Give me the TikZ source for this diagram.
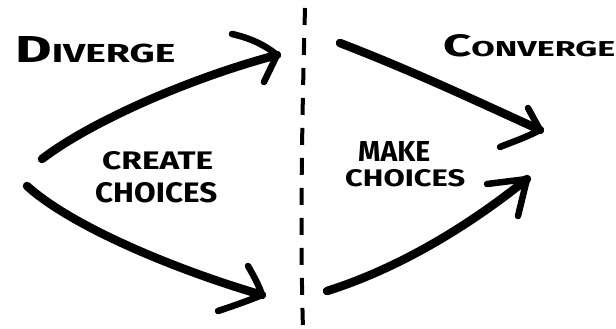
\documentclass[tikz,border=0pt]{standalone}
\usepackage{fontspec}
\setmainfont{Fira Sans}
\usepackage{graphicx}
\newcommand{\hwtext}[3]{\resizebox{#1}{#2}{\bfseries #3}}
\tikzset{
  shaft/.style={line width=8.5pt, line cap=round, black},
  arm/.style={line width=6.5pt, line cap=round, line join=round, black},
  divider/.style={line width=4pt, dash pattern=on 17pt off 13pt, black},
  label/.style={inner sep=0pt, anchor=south west, black}
}
\begin{document}
\begin{tikzpicture}[x=1pt,y=-1pt]
\useasboundingbox[fill=white] (0,0) rectangle (616,329);
% coordinates
\coordinate (s1) at (42,159);
\coordinate (t1) at (277,55);
\coordinate (s2) at (27,186);
\coordinate (t2) at (262,295);
\coordinate (s3) at (340,43);
\coordinate (t3) at (540,130);
\coordinate (s4) at (327,291);
\coordinate (t4) at (527,179);
\coordinate (d1) at (305,8);
\coordinate (d2) at (303,329);
% divider
\draw[divider] (d1) .. controls (302,120) and (300,230) .. (d2);
% arrow 1
\draw[shaft] (s1) .. controls (90,122) and (190,78) .. (t1);
\draw[arm] (232,34) .. controls (250,38) and (265,45) .. (t1) -- (264,82);
% arrow 2
\draw[shaft] (s2) .. controls (70,225) and (170,268) .. (t2);
\draw[arm] (248,266) .. controls (255,278) and (260,288) .. (t2) .. controls (245,302) and (230,307) .. (218,311);
% arrow 3
\draw[shaft] (s3) .. controls (410,70) and (470,98) .. (t3);
\draw[arm] (528,108) -- (t3) .. controls (525,138) and (512,142) .. (500,147);
% arrow 4
\draw[shaft] (s4) .. controls (400,268) and (470,225) .. (t4);
\draw[arm] (487,184) -- (t4) -- (518,216);
% labels
\node[label] (diverge) at (15,63) {\hwtext{160pt}{26pt}{{\Large D}IVERGE}};
\node[label] (converge) at (443,57) {\hwtext{172pt}{22pt}{{\Large C}ONVERGE}};
\node[label] (create) at (102,170) {\hwtext{111pt}{18pt}{CREATE}};
\node[label] (choices1) at (95,203) {\hwtext{122pt}{20pt}{CHOICES}};
\node[label] (make) at (358,162) {\hwtext{72pt}{20pt}{MAKE}};
\node[label] (choices2) at (345,187) {\hwtext{120pt}{17pt}{CHOICES}};
\end{tikzpicture}
\end{document}
